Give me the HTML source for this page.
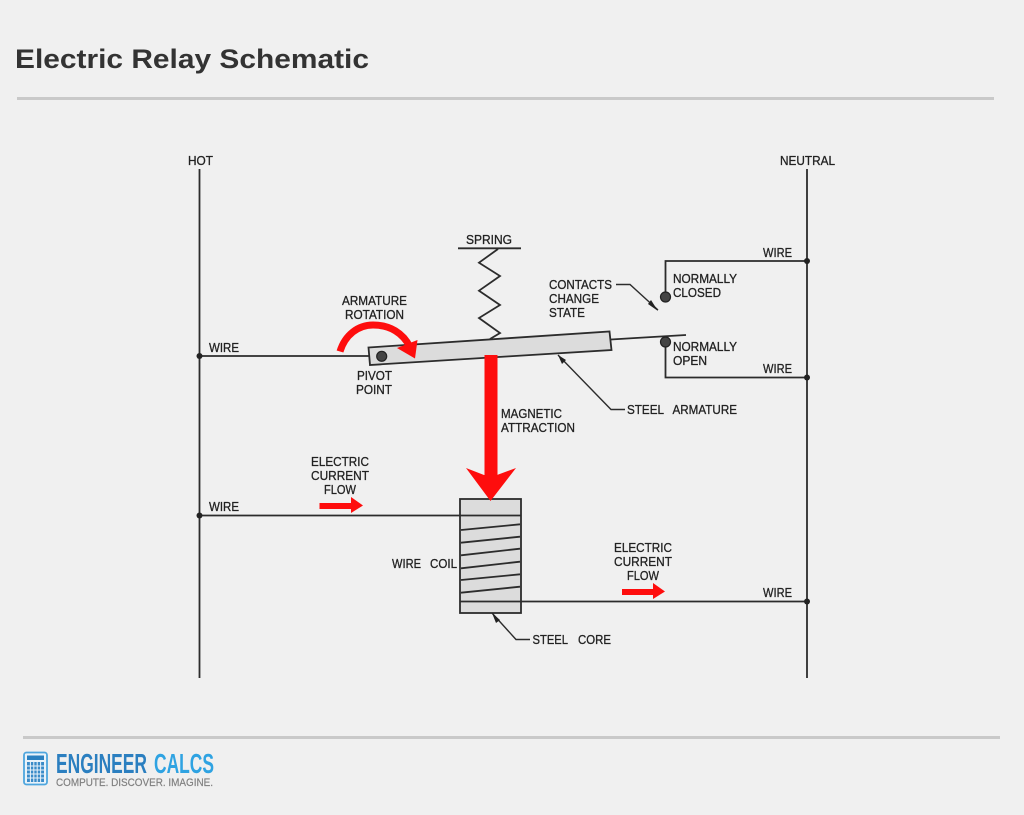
<!DOCTYPE html>
<html>
<head>
<meta charset="utf-8">
<style>
html,body{margin:0;padding:0;background:#f0f0f0;}
svg{display:block;filter:blur(0.35px);}
text{font-family:"Liberation Sans",sans-serif;}
.l{font-size:13px;fill:#222;stroke:#222;stroke-width:0.3px;}
</style>
</head>
<body>
<svg width="1024" height="815" viewBox="0 0 1024 815" xmlns="http://www.w3.org/2000/svg">
<rect width="1024" height="815" fill="#f0f0f0"/>
<text x="15" y="68" font-size="27" font-weight="700" fill="#333" textLength="354" lengthAdjust="spacingAndGlyphs">Electric Relay Schematic</text>
<rect x="17" y="97" width="977" height="3" fill="#c9c9c9"/>
<rect x="23" y="736" width="977" height="3" fill="#c9c9c9"/>

<g stroke="#2c2c2c" stroke-width="1.8" fill="none">
<path d="M199.500 169V678M807 169V678"/>
<path d="M199.500 356H369M199.500 515.500H460M521 601.500H807"/>
<path d="M807 261H665.500V297M807 377.500H665.500V341"/>
<path d="M611 339.500L686 335"/>
<path d="M458 248.300H521M498 249L479 262.700L500 276L479 290.700L500 305L479 318L500 333L490 339"/>
<path d="M616 284.500H630L658 310" stroke-width="1.4"/>
<path d="M558 355L611 409.500H625" stroke-width="1.4"/>
<path d="M492 613L516 639.500H530" stroke-width="1.4"/>
</g>

<polygon points="368.500,347.500 609.500,331.500 611.500,350 370,365" fill="#dcdcdc" stroke="#2c2c2c" stroke-width="1.800"/>
<circle cx="381.700" cy="356.300" r="5" fill="#444" stroke="#222" stroke-width="1.200"/>

<rect x="460" y="499" width="61" height="114" fill="#dcdcdc" stroke="#2c2c2c" stroke-width="1.800"/>
<g stroke="#2c2c2c" stroke-width="1.800" fill="none">
<path d="M460 515.500H521M460 601.500H521"/>
<path d="M461 530L520 524.300M461 542.700L520 536.700M461 555.300L520 548.700M461 568.300L520 561.700M461 580L520 574.300M461 592.700L520 586.700"/>
</g>

<g fill="#222">
<circle cx="199.500" cy="356" r="3"/><circle cx="199.500" cy="515.500" r="3"/>
<circle cx="807" cy="261" r="3"/><circle cx="807" cy="377.500" r="3"/><circle cx="807" cy="601.500" r="3"/>
<polygon points="658,311 648,304 651,300"/>
<polygon points="558,355 566,360 562,364"/>
<polygon points="492,613 500,620 496,623"/>
</g>
<circle cx="665.500" cy="297" r="5" fill="#444" stroke="#222" stroke-width="1.200"/>
<circle cx="665.500" cy="342" r="5" fill="#444" stroke="#222" stroke-width="1.200"/>

<g fill="#fe0d0d">
<rect x="484.500" y="355" width="13" height="122"/>
<polygon points="466,468 490.500,501 516,468 497,475 484,475"/>
<path d="M340 351.500C345 335 358 325 373 325C390 325 403 333 410 347" fill="none" stroke="#fe0d0d" stroke-width="7"/>
<polygon points="417.500,340 415,358.500 397,348"/>
<rect x="319.500" y="503" width="33" height="6"/>
<polygon points="351,497 363,505.500 351,513"/>
<rect x="622" y="589" width="33" height="6"/>
<polygon points="653,583 665,591.500 653,599"/>
</g>

<text class="l" x="188" y="165" textLength="25" lengthAdjust="spacingAndGlyphs">HOT</text>
<text class="l" x="780" y="165" textLength="55" lengthAdjust="spacingAndGlyphs">NEUTRAL</text>
<text class="l" x="466" y="244" textLength="46" lengthAdjust="spacingAndGlyphs">SPRING</text>
<text class="l" x="763" y="257" textLength="29" lengthAdjust="spacingAndGlyphs">WIRE</text>
<text class="l" x="763" y="373" textLength="29" lengthAdjust="spacingAndGlyphs">WIRE</text>
<text class="l" x="763" y="597" textLength="29" lengthAdjust="spacingAndGlyphs">WIRE</text>
<text class="l" x="209" y="352" textLength="30" lengthAdjust="spacingAndGlyphs">WIRE</text>
<text class="l" x="209" y="511" textLength="30" lengthAdjust="spacingAndGlyphs">WIRE</text>
<text class="l" x="549" y="289" textLength="63" lengthAdjust="spacingAndGlyphs">CONTACTS</text>
<text class="l" x="549" y="303" textLength="50" lengthAdjust="spacingAndGlyphs">CHANGE</text>
<text class="l" x="549" y="317" textLength="36" lengthAdjust="spacingAndGlyphs">STATE</text>
<text class="l" x="673" y="283" textLength="64" lengthAdjust="spacingAndGlyphs">NORMALLY</text>
<text class="l" x="673" y="297" textLength="48" lengthAdjust="spacingAndGlyphs">CLOSED</text>
<text class="l" x="673" y="351" textLength="64" lengthAdjust="spacingAndGlyphs">NORMALLY</text>
<text class="l" x="673" y="365" textLength="34" lengthAdjust="spacingAndGlyphs">OPEN</text>
<text class="l" x="342" y="305" textLength="65" lengthAdjust="spacingAndGlyphs">ARMATURE</text>
<text class="l" x="345" y="319" textLength="59" lengthAdjust="spacingAndGlyphs">ROTATION</text>
<text class="l" x="357" y="380" textLength="35" lengthAdjust="spacingAndGlyphs">PIVOT</text>
<text class="l" x="356" y="394" textLength="36" lengthAdjust="spacingAndGlyphs">POINT</text>
<text class="l" x="627" y="414" textLength="37" lengthAdjust="spacingAndGlyphs">STEEL</text>
<text class="l" x="672.500" y="414" textLength="64.500" lengthAdjust="spacingAndGlyphs">ARMATURE</text>
<text class="l" x="501" y="418" textLength="61" lengthAdjust="spacingAndGlyphs">MAGNETIC</text>
<text class="l" x="501" y="432" textLength="74" lengthAdjust="spacingAndGlyphs">ATTRACTION</text>
<text class="l" x="311" y="466" textLength="58" lengthAdjust="spacingAndGlyphs">ELECTRIC</text>
<text class="l" x="311" y="480" textLength="58" lengthAdjust="spacingAndGlyphs">CURRENT</text>
<text class="l" x="324" y="494" textLength="32" lengthAdjust="spacingAndGlyphs">FLOW</text>
<text class="l" x="614" y="552" textLength="58" lengthAdjust="spacingAndGlyphs">ELECTRIC</text>
<text class="l" x="614" y="566" textLength="58" lengthAdjust="spacingAndGlyphs">CURRENT</text>
<text class="l" x="627" y="580" textLength="32" lengthAdjust="spacingAndGlyphs">FLOW</text>
<text class="l" x="392" y="568" textLength="29" lengthAdjust="spacingAndGlyphs">WIRE</text>
<text class="l" x="430" y="568" textLength="27" lengthAdjust="spacingAndGlyphs">COIL</text>
<text class="l" x="532.500" y="644" textLength="35.500" lengthAdjust="spacingAndGlyphs">STEEL</text>
<text class="l" x="578" y="644" textLength="33" lengthAdjust="spacingAndGlyphs">CORE</text>

<rect x="24" y="752.500" width="23" height="32" rx="2.500" fill="#eaf3fa" stroke="#4ea6de" stroke-width="1.800"/>
<rect x="27" y="755.500" width="17" height="4.500" fill="#2a80c0"/>
<rect x="27" y="762" width="17" height="20" fill="#3a8bc8"/>
<g stroke="#eaf3fa" stroke-width="1" fill="none">
<path d="M30.400 762V782M33.800 762V782M37.200 762V782M40.600 762V782M27 766H44M27 770H44M27 774H44M27 778H44"/>
</g>
<text x="56" y="773" font-size="28" font-weight="700" fill="#2b7fc0" textLength="91" lengthAdjust="spacingAndGlyphs">ENGINEER</text>
<text x="154" y="773" font-size="28" font-weight="700" fill="#2fa3e2" textLength="60" lengthAdjust="spacingAndGlyphs">CALCS</text>
<text x="56" y="786" font-size="11" fill="#808080" stroke="#808080" stroke-width="0.2" textLength="157" lengthAdjust="spacingAndGlyphs">COMPUTE. DISCOVER. IMAGINE.</text>
</svg>
</body>
</html>
